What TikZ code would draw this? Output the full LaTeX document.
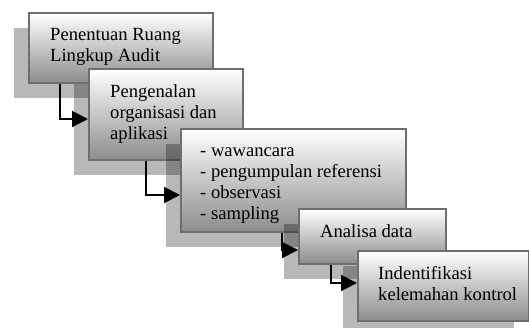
\documentclass[tikz,border=0pt]{standalone}
\usepackage{fontspec}
\setmainfont{Liberation Serif}
\usetikzlibrary{positioning, arrows.meta, shadows}

\begin{document}
\begin{tikzpicture}[x=1pt,y=-1pt,
    phase/.style={rectangle,anchor=north west,inner sep=0pt,draw=black!57,line width=2pt,
        top color=white,bottom color=black!45,
        drop shadow={shadow xshift=-15pt,shadow yshift=-15pt,opacity=.28,fill=black}},
    phase text/.style={inner sep=0pt,align=left,font=\fontsize{18.6}{21}\selectfont},
    flow/.style={-{Triangle[length=16pt,width=16pt]},line width=2pt}]

\useasboundingbox (0,0) rectangle (529,327);

\node[phase, minimum width=184pt, minimum height=70pt]  (b1) at (28,12)   {};
\node[phase text, below right=16pt and 22pt of b1.north west] (t1) {Penentuan Ruang\\Lingkup Audit};

\node[phase, minimum width=154pt, minimum height=91pt]  (b2) at (88,68)   {};
\node[phase text, below right=16pt and 22pt of b2.north west] (t2) {Pengenalan\\organisasi dan\\aplikasi};

\node[phase, minimum width=225pt, minimum height=103pt] (b3) at (180,128) {};
\begin{scope}
  \clip (b3.north west) rectangle ([yshift=10pt]b3.south east);
  \node[phase text, below right=20pt and 20pt of b3.north west] (t3)
    {- wawancara\\- pengumpulan referensi\\- observasi\\- sampling};
\end{scope}

\node[phase, minimum width=147pt, minimum height=55pt]  (b4) at (298,208) {};
\node[phase text, below right=16pt and 22pt of b4.north west] (t4) {Analisa data};

\node[phase, minimum width=171pt, minimum height=70pt]  (b5) at (357,250) {};
\node[phase text, below right=16pt and 21pt of b5.north west] (t5) {Indentifikasi\\kelemahan kontrol};

\draw[flow] ([xshift=32pt]b1.south west)  |- ([yshift=-4.5pt]b2.west);
\draw[flow] ([xshift=58pt]b2.south west)  |- ([yshift=-14.5pt]b3.west);
\draw[flow] ([xshift=102pt]b3.south west) |- ([yshift=-13.5pt]b4.west);
\draw[flow] ([xshift=33pt]b4.south west)  |- ([yshift=3pt]b5.west);
\end{tikzpicture}
\end{document}
